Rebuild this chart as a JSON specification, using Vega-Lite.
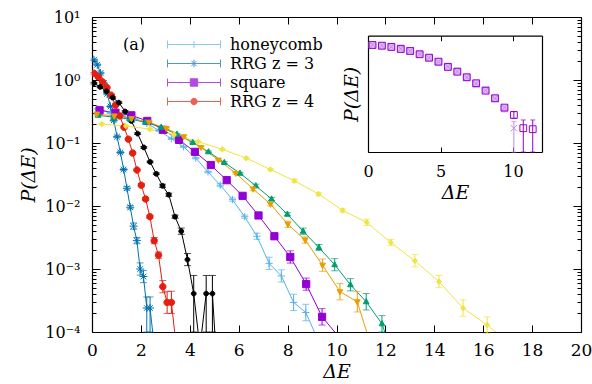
{
  "$schema": "https://vega.github.io/schema/vega-lite/v6.json",
  "autosize": {"type": "none"},
  "padding": {"left": 92, "top": 17, "right": 11, "bottom": 52},
  "width": 489,
  "height": 315,
  "background": "white",
  "datasets": {
    "main": [
      {"s":"honeycomb","x":0.245,"p":0.347,"lo":0.337,"hi":0.357},
      {"s":"honeycomb","x":0.745,"p":0.302,"lo":0.293,"hi":0.311},
      {"s":"honeycomb","x":1.245,"p":0.269,"lo":0.261,"hi":0.277},
      {"s":"honeycomb","x":1.745,"p":0.240,"lo":0.233,"hi":0.247},
      {"s":"honeycomb","x":2.245,"p":0.204,"lo":0.198,"hi":0.210},
      {"s":"honeycomb","x":2.745,"p":0.158,"lo":0.153,"hi":0.163},
      {"s":"honeycomb","x":3.245,"p":0.117,"lo":0.114,"hi":0.121},
      {"s":"honeycomb","x":3.745,"p":0.0871,"lo":0.0846,"hi":0.0897},
      {"s":"honeycomb","x":4.245,"p":0.0575,"lo":0.0558,"hi":0.0592},
      {"s":"honeycomb","x":4.745,"p":0.0347,"lo":0.0337,"hi":0.0357},
      {"s":"honeycomb","x":5.245,"p":0.0214,"lo":0.0202,"hi":0.0227},
      {"s":"honeycomb","x":5.745,"p":0.0126,"lo":0.0119,"hi":0.0134},
      {"s":"honeycomb","x":6.245,"p":0.00676,"lo":0.00638,"hi":0.00717},
      {"s":"honeycomb","x":6.745,"p":0.00331,"lo":0.00296,"hi":0.00371},
      {"s":"honeycomb","x":7.245,"p":0.00123,"lo":0.000984,"hi":0.00154},
      {"s":"honeycomb","x":7.745,"p":0.000776,"lo":0.000621,"hi":0.00097},
      {"s":"honeycomb","x":8.245,"p":0.000295,"lo":0.000219,"hi":0.000398},
      {"s":"honeycomb","x":8.745,"p":0.000204,"lo":0.000151,"hi":0.000275},
      {"s":"honeycomb","x":9.245,"p":0.0000741,"lo":0.000055,"hi":0.00009},

      {"s":"RRG z = 3","x":0.08,"p":2.09,"lo":2.03,"hi":2.15},
      {"s":"RRG z = 3","x":0.215,"p":1.74,"lo":1.69,"hi":1.79},
      {"s":"RRG z = 3","x":0.35,"p":1.29,"lo":1.25,"hi":1.33},
      {"s":"RRG z = 3","x":0.485,"p":0.891,"lo":0.865,"hi":0.918},
      {"s":"RRG z = 3","x":0.62,"p":0.603,"lo":0.585,"hi":0.621},
      {"s":"RRG z = 3","x":0.755,"p":0.380,"lo":0.369,"hi":0.391},
      {"s":"RRG z = 3","x":0.89,"p":0.229,"lo":0.222,"hi":0.236},
      {"s":"RRG z = 3","x":1.025,"p":0.126,"lo":0.122,"hi":0.130},
      {"s":"RRG z = 3","x":1.16,"p":0.0708,"lo":0.0687,"hi":0.0729},
      {"s":"RRG z = 3","x":1.295,"p":0.0380,"lo":0.0369,"hi":0.0391},
      {"s":"RRG z = 3","x":1.43,"p":0.0191,"lo":0.0180,"hi":0.0202},
      {"s":"RRG z = 3","x":1.565,"p":0.00955,"lo":0.00901,"hi":0.0101},
      {"s":"RRG z = 3","x":1.7,"p":0.00479,"lo":0.00428,"hi":0.00536},
      {"s":"RRG z = 3","x":1.835,"p":0.00282,"lo":0.00252,"hi":0.00316},
      {"s":"RRG z = 3","x":1.97,"p":0.001,"lo":0.0008,"hi":0.00125},
      {"s":"RRG z = 3","x":2.105,"p":0.000759,"lo":0.000607,"hi":0.000949},
      {"s":"RRG z = 3","x":2.24,"p":0.00024,"lo":0.0001,"hi":0.00036},
      {"s":"RRG z = 3","x":2.375,"p":0.00024,"lo":0.0001,"hi":0.00036},
      {"s":"RRG z = 3","x":2.51,"p":0.0000794,"lo":0.00005,"hi":0.00009},

      {"s":"square","x":0.31,"p":0.331,"lo":0.321,"hi":0.341},
      {"s":"square","x":0.96,"p":0.302,"lo":0.293,"hi":0.311},
      {"s":"square","x":1.61,"p":0.275,"lo":0.267,"hi":0.283},
      {"s":"square","x":2.26,"p":0.224,"lo":0.217,"hi":0.231},
      {"s":"square","x":2.91,"p":0.162,"lo":0.157,"hi":0.167},
      {"s":"square","x":3.56,"p":0.112,"lo":0.109,"hi":0.115},
      {"s":"square","x":4.21,"p":0.0724,"lo":0.0703,"hi":0.0746},
      {"s":"square","x":4.86,"p":0.0447,"lo":0.0434,"hi":0.0460},
      {"s":"square","x":5.51,"p":0.0257,"lo":0.0242,"hi":0.0272},
      {"s":"square","x":6.16,"p":0.0145,"lo":0.0137,"hi":0.0154},
      {"s":"square","x":6.81,"p":0.00708,"lo":0.00668,"hi":0.0075},
      {"s":"square","x":7.46,"p":0.00331,"lo":0.00296,"hi":0.00371},
      {"s":"square","x":8.11,"p":0.00155,"lo":0.00124,"hi":0.00194},
      {"s":"square","x":8.76,"p":0.000575,"lo":0.00046,"hi":0.000719},
      {"s":"square","x":9.41,"p":0.000174,"lo":0.000129,"hi":0.000235},
      {"s":"square","x":10.06,"p":0.0000871,"lo":0.000065,"hi":0.00009},

      {"s":"RRG z = 4","x":0.08,"p":1.28,"lo":1.24,"hi":1.32},
      {"s":"RRG z = 4","x":0.256,"p":1.12,"lo":1.09,"hi":1.15},
      {"s":"RRG z = 4","x":0.432,"p":0.933,"lo":0.906,"hi":0.961},
      {"s":"RRG z = 4","x":0.608,"p":0.759,"lo":0.737,"hi":0.782},
      {"s":"RRG z = 4","x":0.784,"p":0.575,"lo":0.558,"hi":0.592},
      {"s":"RRG z = 4","x":0.96,"p":0.398,"lo":0.386,"hi":0.410},
      {"s":"RRG z = 4","x":1.136,"p":0.269,"lo":0.261,"hi":0.277},
      {"s":"RRG z = 4","x":1.312,"p":0.178,"lo":0.173,"hi":0.183},
      {"s":"RRG z = 4","x":1.488,"p":0.115,"lo":0.112,"hi":0.118},
      {"s":"RRG z = 4","x":1.664,"p":0.0692,"lo":0.0672,"hi":0.0713},
      {"s":"RRG z = 4","x":1.84,"p":0.0372,"lo":0.0361,"hi":0.0383},
      {"s":"RRG z = 4","x":2.016,"p":0.0214,"lo":0.0202,"hi":0.0227},
      {"s":"RRG z = 4","x":2.192,"p":0.0129,"lo":0.0122,"hi":0.0137},
      {"s":"RRG z = 4","x":2.368,"p":0.00676,"lo":0.00638,"hi":0.00717},
      {"s":"RRG z = 4","x":2.544,"p":0.00282,"lo":0.00252,"hi":0.00316},
      {"s":"RRG z = 4","x":2.72,"p":0.00166,"lo":0.00148,"hi":0.00186},
      {"s":"RRG z = 4","x":2.896,"p":0.000525,"lo":0.00042,"hi":0.000656},
      {"s":"RRG z = 4","x":3.072,"p":0.000295,"lo":0.000197,"hi":0.000443},
      {"s":"RRG z = 4","x":3.248,"p":0.000295,"lo":0.000197,"hi":0.000443},
      {"s":"RRG z = 4","x":3.424,"p":0.0000692,"lo":0.00005,"hi":0.00009},

      {"s":"s5","x":0.08,"p":0.891,"lo":0.865,"hi":0.918},
      {"s":"s5","x":0.335,"p":0.776,"lo":0.753,"hi":0.799},
      {"s":"s5","x":0.59,"p":0.661,"lo":0.642,"hi":0.681},
      {"s":"s5","x":0.845,"p":0.525,"lo":0.510,"hi":0.541},
      {"s":"s5","x":1.1,"p":0.437,"lo":0.424,"hi":0.450},
      {"s":"s5","x":1.355,"p":0.316,"lo":0.307,"hi":0.325},
      {"s":"s5","x":1.61,"p":0.224,"lo":0.217,"hi":0.231},
      {"s":"s5","x":1.865,"p":0.141,"lo":0.137,"hi":0.145},
      {"s":"s5","x":2.12,"p":0.0851,"lo":0.0826,"hi":0.0877},
      {"s":"s5","x":2.375,"p":0.0501,"lo":0.0486,"hi":0.0516},
      {"s":"s5","x":2.63,"p":0.0324,"lo":0.0315,"hi":0.0334},
      {"s":"s5","x":2.885,"p":0.0209,"lo":0.0197,"hi":0.0222},
      {"s":"s5","x":3.14,"p":0.0151,"lo":0.0142,"hi":0.0160},
      {"s":"s5","x":3.395,"p":0.00676,"lo":0.00638,"hi":0.00717},
      {"s":"s5","x":3.65,"p":0.00398,"lo":0.00355,"hi":0.00446},
      {"s":"s5","x":3.905,"p":0.00141,"lo":0.00113,"hi":0.00176},
      {"s":"s5","x":4.16,"p":0.000407,"lo":0.0001,"hi":0.00079},
      {"s":"s5","x":4.415,"p":0.0000562,"lo":0.00003,"hi":0.00009},
      {"s":"s5","x":4.67,"p":0.000407,"lo":0.0001,"hi":0.00079},
      {"s":"s5","x":4.925,"p":0.000407,"lo":0.0001,"hi":0.00079},
      {"s":"s5","x":5.18,"p":0.00001,"lo":0.000005,"hi":0.00002},

      {"s":"s6","x":0.25,"p":0.275,"lo":0.267,"hi":0.283},
      {"s":"s6","x":0.895,"p":0.257,"lo":0.250,"hi":0.265},
      {"s":"s6","x":1.54,"p":0.240,"lo":0.233,"hi":0.247},
      {"s":"s6","x":2.185,"p":0.214,"lo":0.208,"hi":0.220},
      {"s":"s6","x":2.83,"p":0.178,"lo":0.173,"hi":0.183},
      {"s":"s6","x":3.475,"p":0.138,"lo":0.134,"hi":0.142},
      {"s":"s6","x":4.12,"p":0.102,"lo":0.099,"hi":0.105},
      {"s":"s6","x":4.765,"p":0.0724,"lo":0.0703,"hi":0.0746},
      {"s":"s6","x":5.41,"p":0.0490,"lo":0.0476,"hi":0.0505},
      {"s":"s6","x":6.055,"p":0.0331,"lo":0.0321,"hi":0.0341},
      {"s":"s6","x":6.7,"p":0.0209,"lo":0.0197,"hi":0.0222},
      {"s":"s6","x":7.345,"p":0.0129,"lo":0.0122,"hi":0.0137},
      {"s":"s6","x":7.99,"p":0.00741,"lo":0.00699,"hi":0.00785},
      {"s":"s6","x":8.635,"p":0.00398,"lo":0.00355,"hi":0.00446},
      {"s":"s6","x":9.28,"p":0.00219,"lo":0.00196,"hi":0.00245},
      {"s":"s6","x":9.925,"p":0.00117,"lo":0.000936,"hi":0.00146},
      {"s":"s6","x":10.57,"p":0.000562,"lo":0.00045,"hi":0.000703},
      {"s":"s6","x":11.215,"p":0.000302,"lo":0.000224,"hi":0.000408},
      {"s":"s6","x":11.86,"p":0.000135,"lo":0.0001,"hi":0.000182},
      {"s":"s6","x":12.505,"p":0.0000251,"lo":0.00001,"hi":0.00004},

      {"s":"s7","x":0.2,"p":0.288,"lo":0.280,"hi":0.297},
      {"s":"s7","x":0.91,"p":0.269,"lo":0.261,"hi":0.277},
      {"s":"s7","x":1.62,"p":0.245,"lo":0.238,"hi":0.252},
      {"s":"s7","x":2.33,"p":0.214,"lo":0.208,"hi":0.220},
      {"s":"s7","x":3.04,"p":0.170,"lo":0.165,"hi":0.175},
      {"s":"s7","x":3.75,"p":0.126,"lo":0.122,"hi":0.130},
      {"s":"s7","x":4.46,"p":0.0851,"lo":0.0826,"hi":0.0877},
      {"s":"s7","x":5.17,"p":0.0537,"lo":0.0521,"hi":0.0553},
      {"s":"s7","x":5.88,"p":0.0331,"lo":0.0321,"hi":0.0341},
      {"s":"s7","x":6.59,"p":0.0186,"lo":0.0175,"hi":0.0197},
      {"s":"s7","x":7.30,"p":0.0107,"lo":0.0101,"hi":0.0113},
      {"s":"s7","x":8.01,"p":0.00513,"lo":0.00458,"hi":0.00575},
      {"s":"s7","x":8.72,"p":0.00288,"lo":0.00257,"hi":0.00323},
      {"s":"s7","x":9.43,"p":0.00115,"lo":0.00092,"hi":0.00144},
      {"s":"s7","x":10.14,"p":0.000437,"lo":0.000324,"hi":0.00059},
      {"s":"s7","x":10.85,"p":0.000302,"lo":0.000208,"hi":0.000438},
      {"s":"s7","x":11.56,"p":0.0000398,"lo":0.00002,"hi":0.00006},

      {"s":"s8","x":0.4,"p":0.200,"lo":0.194,"hi":0.206},
      {"s":"s8","x":1.385,"p":0.186,"lo":0.181,"hi":0.192},
      {"s":"s8","x":2.37,"p":0.166,"lo":0.161,"hi":0.171},
      {"s":"s8","x":3.355,"p":0.135,"lo":0.131,"hi":0.139},
      {"s":"s8","x":4.34,"p":0.105,"lo":0.102,"hi":0.108},
      {"s":"s8","x":5.325,"p":0.0794,"lo":0.0771,"hi":0.0818},
      {"s":"s8","x":6.31,"p":0.0575,"lo":0.0558,"hi":0.0592},
      {"s":"s8","x":7.295,"p":0.0380,"lo":0.0369,"hi":0.0391},
      {"s":"s8","x":8.28,"p":0.0251,"lo":0.0237,"hi":0.0266},
      {"s":"s8","x":9.265,"p":0.0155,"lo":0.0146,"hi":0.0164},
      {"s":"s8","x":10.25,"p":0.00851,"lo":0.00803,"hi":0.00902},
      {"s":"s8","x":11.235,"p":0.00550,"lo":0.00491,"hi":0.00616},
      {"s":"s8","x":12.22,"p":0.00263,"lo":0.00235,"hi":0.00295},
      {"s":"s8","x":13.205,"p":0.00135,"lo":0.00108,"hi":0.00169},
      {"s":"s8","x":14.19,"p":0.000631,"lo":0.000505,"hi":0.000789},
      {"s":"s8","x":15.175,"p":0.000240,"lo":0.000178,"hi":0.000324},
      {"s":"s8","x":16.16,"p":0.000129,"lo":0.0000956,"hi":0.000174},
      {"s":"s8","x":17.145,"p":0.0000631,"lo":0.00003,"hi":0.00009}
    ],
    "inset": [
      {"s":"set1","x":0.31,"p":0.331,"lo":0.315,"hi":0.348},
      {"s":"set1","x":0.96,"p":0.302,"lo":0.288,"hi":0.317},
      {"s":"set1","x":1.61,"p":0.275,"lo":0.262,"hi":0.289},
      {"s":"set1","x":2.26,"p":0.224,"lo":0.213,"hi":0.235},
      {"s":"set1","x":2.91,"p":0.162,"lo":0.154,"hi":0.170},
      {"s":"set1","x":3.56,"p":0.112,"lo":0.107,"hi":0.118},
      {"s":"set1","x":4.21,"p":0.0724,"lo":0.069,"hi":0.076},
      {"s":"set1","x":4.86,"p":0.0447,"lo":0.0426,"hi":0.0469},
      {"s":"set1","x":5.51,"p":0.0257,"lo":0.0245,"hi":0.027},
      {"s":"set1","x":6.16,"p":0.0145,"lo":0.0138,"hi":0.0152},
      {"s":"set1","x":6.81,"p":0.00708,"lo":0.00644,"hi":0.00779},
      {"s":"set1","x":7.46,"p":0.00331,"lo":0.00301,"hi":0.00364},
      {"s":"set1","x":8.11,"p":0.00155,"lo":0.00141,"hi":0.00171},
      {"s":"set1","x":8.76,"p":0.000575,"lo":0.00046,"hi":0.000719},
      {"s":"set1","x":9.41,"p":0.000174,"lo":0.000139,"hi":0.000218},

      {"s":"set2","x":0.31,"p":0.338,"lo":0.322,"hi":0.355},
      {"s":"set2","x":0.96,"p":0.31,"lo":0.295,"hi":0.326},
      {"s":"set2","x":1.61,"p":0.268,"lo":0.255,"hi":0.281},
      {"s":"set2","x":2.26,"p":0.212,"lo":0.202,"hi":0.223},
      {"s":"set2","x":2.91,"p":0.165,"lo":0.157,"hi":0.173},
      {"s":"set2","x":3.56,"p":0.111,"lo":0.106,"hi":0.117},
      {"s":"set2","x":4.21,"p":0.0728,"lo":0.0693,"hi":0.0764},
      {"s":"set2","x":4.86,"p":0.0452,"lo":0.043,"hi":0.0475},
      {"s":"set2","x":5.51,"p":0.025,"lo":0.0238,"hi":0.0263},
      {"s":"set2","x":6.16,"p":0.0142,"lo":0.0135,"hi":0.0149},
      {"s":"set2","x":6.81,"p":0.0071,"lo":0.00645,"hi":0.00781},
      {"s":"set2","x":7.46,"p":0.0034,"lo":0.00309,"hi":0.00374},
      {"s":"set2","x":8.11,"p":0.0015,"lo":0.00136,"hi":0.00165},
      {"s":"set2","x":8.76,"p":0.00058,"lo":0.000464,"hi":0.000725},
      {"s":"set2","x":9.41,"p":0.00019,"lo":0.000152,"hi":0.000238},
      {"s":"set2","x":10.06,"p":0.0000169,"lo":0.000001,"hi":0.000037},

      {"s":"set3","x":0.31,"p":0.332,"lo":0.316,"hi":0.349},
      {"s":"set3","x":0.96,"p":0.305,"lo":0.290,"hi":0.320},
      {"s":"set3","x":1.61,"p":0.262,"lo":0.250,"hi":0.275},
      {"s":"set3","x":2.26,"p":0.206,"lo":0.196,"hi":0.216},
      {"s":"set3","x":2.91,"p":0.163,"lo":0.155,"hi":0.171},
      {"s":"set3","x":3.56,"p":0.110,"lo":0.105,"hi":0.116},
      {"s":"set3","x":4.21,"p":0.0734,"lo":0.0699,"hi":0.0771},
      {"s":"set3","x":4.86,"p":0.0457,"lo":0.0435,"hi":0.0480},
      {"s":"set3","x":5.51,"p":0.0244,"lo":0.0232,"hi":0.0256},
      {"s":"set3","x":6.16,"p":0.0139,"lo":0.0132,"hi":0.0146},
      {"s":"set3","x":6.81,"p":0.00718,"lo":0.00653,"hi":0.0079},
      {"s":"set3","x":7.46,"p":0.00352,"lo":0.0032,"hi":0.00387},
      {"s":"set3","x":8.11,"p":0.00146,"lo":0.00133,"hi":0.00161},
      {"s":"set3","x":8.76,"p":0.000593,"lo":0.000474,"hi":0.000741},
      {"s":"set3","x":9.41,"p":0.000195,"lo":0.000156,"hi":0.000244},
      {"s":"set3","x":10.06,"p":0.0000817,"lo":0.000055,"hi":0.00012},
      {"s":"set3","x":10.71,"p":0.0000169,"lo":0.000001,"hi":0.000045},
      {"s":"set3","x":11.36,"p":0.0000150,"lo":0.000001,"hi":0.000045}
    ]
  },
  "resolve": {
    "scale": {"x": "independent", "y": "independent"},
    "axis": {"x": "independent", "y": "independent"}
  },
  "layer": [
    {
      "data": {"name": "main"},
      "mark": {"type": "line", "strokeWidth": 1, "clip": true},
      "encoding": {
        "x": {"field": "x", "type": "quantitative",
              "scale": {"domain": [0, 20], "nice": false, "zero": false},
              "axis": {"orient": "bottom", "values": [0,2,4,6,8,10,12,14,16,18,20], "format": "d",
                       "tickSize": -7, "labelPadding": 17, "labelFontSize": 17, "labelFlush": false, "labelOverlap": false,
                       "title": "ΔE", "titleFontStyle": "italic", "titlePadding": 4}},
        "y": {"field": "p", "type": "quantitative",
              "scale": {"type": "log", "domain": [0.0001, 10], "nice": false},
              "axis": {"orient": "left",
                       "values": [0.0001,0.0002,0.0003,0.0004,0.0005,0.0006,0.0007,0.0008,0.0009,0.001,0.002,0.003,0.004,0.005,0.006,0.007,0.008,0.009,0.01,0.02,0.03,0.04,0.05,0.06,0.07,0.08,0.09,0.1,0.2,0.3,0.4,0.5,0.6,0.7,0.8,0.9,1,2,3,4,5,6,7,8,9,10],
                       "tickSize": {"condition": {"test": "abs(log(datum.value)/LN10 - round(log(datum.value)/LN10)) < 0.001", "value": -8}, "value": -4},
                       "labelExpr": "abs(log(datum.value)/LN10 - round(log(datum.value)/LN10)) < 0.001 ? '10' + ['⁻⁴','⁻³','⁻²','⁻¹','⁰','¹'][round(log(datum.value)/LN10) + 4] : ''",
                       "labelPadding": 20, "labelOverlap": false,
                       "title": "P(ΔE)", "titleFontStyle": "italic", "titlePadding": 6}},
        "color": {"field": "s", "type": "nominal",
                  "scale": {"domain": ["honeycomb","RRG z = 3","square","RRG z = 4","s5","s6","s7","s8","set1","set2","set3"],
                            "range": ["#56B4E9","#0072B2","#9400D3","#E51E10","#000000","#009E73","#E69F00","#F0E442","#dfb9f2","#c58ae8","#9400D3"]},
                  "legend": {
                    "values": ["honeycomb","RRG z = 3","square","RRG z = 4"],
                    "orient": "none", "legendX": 75, "legendY": 18, "padding": 0,
                    "title": null, "clipHeight": 19, "rowPadding": 0,
                    "symbolSize": 2809, "symbolStrokeWidth": 1, "symbolOpacity": 1, "labelOffset": 9,
                    "labelFont": "DejaVu Serif", "labelFontSize": 16, "labelColor": "#000",
                    "symbolType": {"expr": "datum.value === 'honeycomb' ? 'M-1,0H1M-1,-0.15V0.15M1,-0.15V0.15M-0.13,0H0.13M0,-0.13V0.13' : datum.value === 'RRG z = 3' ? 'M-1,0H1M-1,-0.15V0.15M1,-0.15V0.15M0,-0.14V0.14M-0.1,-0.1L0.1,0.1M-0.1,0.1L0.1,-0.1' : datum.value === 'square' ? 'M-1,0H1M-1,-0.15V0.15M1,-0.15V0.15M-0.14,-0.14H0.14V0.14H-0.14Z' : 'M-1,0H1M-1,-0.15V0.15M1,-0.15V0.15M-0.12,0A0.12,0.12,0,1,0,0.12,0A0.12,0.12,0,1,0,-0.12,0Z'"}
                  }}
      }
    },
    {
      "data": {"name": "main"},
      "transform": [{"filter": "datum.hi > 0.0001"}],
      "mark": {"type": "errorbar", "ticks": {"size": 7}, "thickness": 1},
      "encoding": {
        "x": {"field": "x", "type": "quantitative",
              "scale": {"domain": [0, 20], "nice": false, "zero": false},
              "axis": {"orient": "top", "values": [0,2,4,6,8,10,12,14,16,18,20], "tickSize": -7, "labels": false, "title": null}},
        "y": {"field": "lo", "type": "quantitative",
              "scale": {"type": "log", "domain": [0.0001, 10], "nice": false},
              "axis": {"orient": "right",
                       "values": [0.0001,0.0002,0.0003,0.0004,0.0005,0.0006,0.0007,0.0008,0.0009,0.001,0.002,0.003,0.004,0.005,0.006,0.007,0.008,0.009,0.01,0.02,0.03,0.04,0.05,0.06,0.07,0.08,0.09,0.1,0.2,0.3,0.4,0.5,0.6,0.7,0.8,0.9,1,2,3,4,5,6,7,8,9,10],
                       "tickSize": {"condition": {"test": "abs(log(datum.value)/LN10 - round(log(datum.value)/LN10)) < 0.001", "value": -8}, "value": -4},
                       "labels": false, "title": null}},
        "y2": {"field": "hi"},
        "color": {"field": "s", "type": "nominal"}
      }
    },
    {
      "data": {"name": "main"},
      "transform": [{"filter": "datum.p >= 0.0001"}],
      "mark": {"type": "point", "filled": true, "size": 64, "strokeWidth": 1, "opacity": 1, "clip": true},
      "encoding": {
        "x": {"field": "x", "type": "quantitative", "scale": {"domain": [0, 20], "nice": false, "zero": false}, "axis": null},
        "y": {"field": "p", "type": "quantitative", "scale": {"type": "log", "domain": [0.0001, 10], "nice": false}, "axis": null},
        "color": {"field": "s", "type": "nominal"},
        "stroke": {"field": "s", "type": "nominal", "legend": null,
                   "scale": {"domain": ["RRG z = 3","square","RRG z = 4","s5","s6","s7","s8","set1","set2","set3","honeycomb"],
                             "range": ["#0072B2","#9400D3","#E51E10","#000000","#009E73","#E69F00","#F0E442","#dfb9f2","#c58ae8","#9400D3","#56B4E9"]}},
        "shape": {"field": "s", "type": "nominal", "legend": null,
                  "scale": {"domain": ["set3","set2","set1","s8","s7","s6","s5","RRG z = 4","square","RRG z = 3","honeycomb"],
                            "range": ["M-0.85,-0.85H0.85M0.85,-0.85V0.85M0.85,0.85H-0.85M-0.85,0.85V-0.85",
                                      "M-0.8,-0.8L0.8,0.8M-0.8,0.8L0.8,-0.8",
                                      "M-0.85,-0.85H0.85V0.85H-0.85Z",
                                      "M0,-0.7L0.6,0L0,0.7L-0.6,0Z",
                                      "M0,0.8L0.7,-0.5H-0.7Z",
                                      "M0,-0.8L0.7,0.5H-0.7Z",
                                      "M-0.6,0A0.6,0.6,0,1,0,0.6,0A0.6,0.6,0,1,0,-0.6,0Z",
                                      "M-0.8,0A0.8,0.8,0,1,0,0.8,0A0.8,0.8,0,1,0,-0.8,0Z",
                                      "M-0.9,-0.9H0.9V0.9H-0.9Z",
                                      "M-1,0H1M0,-1V1M-0.7,-0.7L0.7,0.7M-0.7,0.7L0.7,-0.7",
                                      "M-0.9,0H0.9M0,-0.9V0.9"]}}
      }
    },
    {
      "data": {"name": "inset"},
      "mark": {"type": "errorbar", "ticks": {"size": 5}, "thickness": 1},
      "encoding": {
        "x": {"field": "x", "type": "quantitative",
              "scale": {"domain": [0, 12], "range": [276, 450], "nice": false, "zero": false},
              "axis": {"orient": "top", "offset": -18.7, "values": [0, 5, 10], "tickSize": -5, "labels": false, "title": null}},
        "y": {"field": "lo", "type": "quantitative",
              "scale": {"type": "log", "domain": [0.000001, 1], "range": [135, 18.7], "nice": false},
              "axis": {"orient": "right", "offset": -39, "ticks": false, "labels": false, "title": null}},
        "y2": {"field": "hi"},
        "color": {"field": "s", "type": "nominal"}
      }
    },
    {
      "data": {"name": "inset"},
      "mark": {"type": "point", "filled": true, "size": 64, "strokeWidth": 1, "opacity": 1},
      "encoding": {
        "x": {"field": "x", "type": "quantitative",
              "scale": {"domain": [0, 12], "range": [276, 450], "nice": false, "zero": false},
              "axis": {"orient": "bottom", "offset": -180, "values": [0, 5, 10], "tickSize": -5,
                       "labelPadding": 16, "labelFlush": false, "labelOverlap": false,
                       "title": "ΔE", "titleFontStyle": "italic", "titlePadding": 4}},
        "y": {"field": "p", "type": "quantitative",
              "scale": {"type": "log", "domain": [0.000001, 1], "range": [135, 18.7], "nice": false},
              "axis": {"orient": "left", "offset": -276, "ticks": false, "labels": false,
                       "title": "P(ΔE)", "titleFontStyle": "italic", "titlePadding": 7}},
        "color": {"field": "s", "type": "nominal"},
        "stroke": {"field": "s", "type": "nominal", "legend": null},
        "shape": {"field": "s", "type": "nominal", "legend": null}
      }
    },
    {
      "data": {"values": [{}]},
      "mark": {"type": "text", "font": "DejaVu Serif", "fontSize": 16, "color": "#000", "align": "left", "baseline": "middle"},
      "encoding": {
        "x": {"datum": 1.27, "type": "quantitative", "scale": {"domain": [0, 20], "nice": false, "zero": false}, "axis": null},
        "y": {"datum": 3.6, "type": "quantitative", "scale": {"type": "log", "domain": [0.0001, 10], "nice": false}, "axis": null},
        "text": {"value": "(a)"}
      }
    }
  ],
  "config": {
    "view": {"stroke": null},
    "legend": {"labelFont": "DejaVu Serif", "labelFontSize": 16, "labelColor": "#000"},
    "axis": {
      "grid": false,
      "domainColor": "#000", "domainWidth": 1.2,
      "tickColor": "#000", "tickWidth": 1,
      "labelColor": "#000", "titleColor": "#000",
      "labelFont": "DejaVu Serif", "titleFont": "DejaVu Serif",
      "labelFontSize": 16, "titleFontSize": 19, "titleFontWeight": "normal"
    }
  }
}
